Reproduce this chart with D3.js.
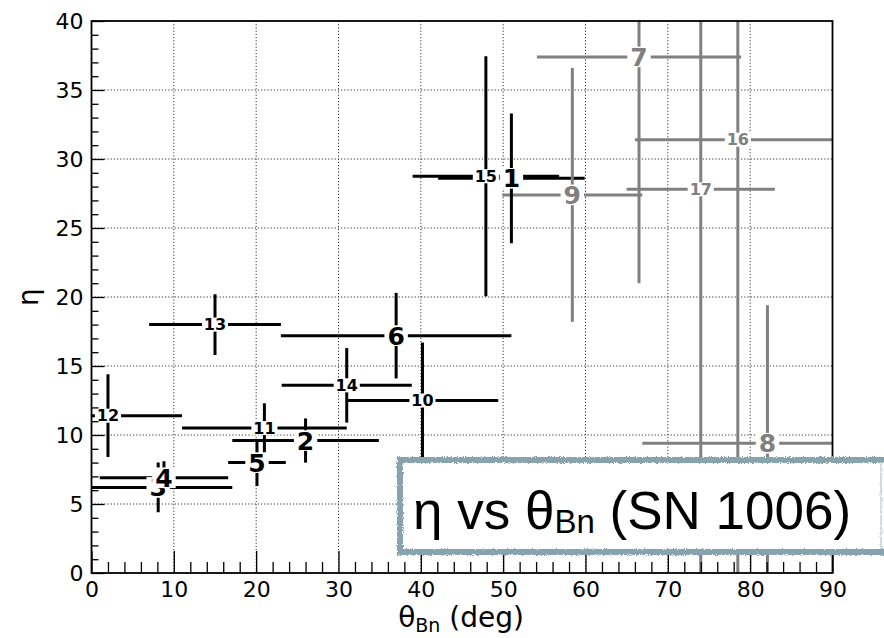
<!DOCTYPE html>
<html>
<head>
<meta charset="utf-8">
<script src="https://cdn.jsdelivr.net/npm/d3@7/dist/d3.min.js"></script>
<style>
  html, body { margin: 0; padding: 0; background: #fff; }
  svg { display: block; }
</style>
</head>
<body>
<svg id="chart" width="884" height="638"></svg>
<script>
// ---- data ----
const labels   = ["1","2","3","4","5","6","7","8","9","10","11","12","13","14","15","16","17"];
const theta    = [51.0, 26.0, 8.1, 8.8, 20.1, 37.0, 66.5, 82.1, 58.4, 40.2, 21.0, 2.0, 15.0, 31.0, 47.9, 78.5, 74.0];
const thetaErr = [8.9, 8.9, 9.0, 7.8, 3.5, 14.0, 12.4, 15.2, 8.5, 9.2, 10.0, 9.0, 8.0, 7.9, 8.9, 12.5, 9.0];
const eta      = [28.6, 9.6, 6.2, 6.9, 8.0, 17.2, 37.4, 9.4, 27.4, 12.5, 10.5, 11.4, 18.0, 13.6, 28.75, 31.4, 27.8];
const etaErr   = [4.7, 1.6, 1.8, 1.2, 1.7, 3.1, 16.4, 10.0, 9.2, 4.2, 1.8, 3.0, 2.2, 2.7, 8.7, 35, 35];
const grayPts  = ["7","8","9","16","17"];
const xTicks   = [0,10,20,30,40,50,60,70,80,90];
const yTicks   = [0,5,10,15,20,25,30,35,40];
const xMinorTicks = d3.range(0, 91, 2).filter(v => v % 10 !== 0);
const yMinorTicks = d3.range(0, 41, 1).filter(v => v % 5 !== 0);

const points = labels.map((l, i) => ({label: l, x: theta[i], xe: thetaErr[i], y: eta[i], ye: etaErr[i], gray: grayPts.includes(l)}));

// ---- layout ----
const svg = d3.select("#chart");
const L = 91.5, R = 832.5, T = 21, B = 573;
const x = d3.scaleLinear().domain([0, 90]).range([L, R]);
const y = d3.scaleLinear().domain([0, 40]).range([B, T]);
const BLACK = "#000", GRAY = "#808080";

const defs = svg.append("defs");
defs.append("clipPath").attr("id", "plotclip").append("rect")
  .attr("x", L).attr("y", T).attr("width", R - L).attr("height", B - T);
const rough = defs.append("filter").attr("id", "rough").attr("x", "-5%").attr("y", "-10%").attr("width", "110%").attr("height", "120%");
rough.append("feTurbulence").attr("type", "fractalNoise").attr("baseFrequency", "0.9").attr("numOctaves", 2).attr("seed", 3).attr("result", "noise");
rough.append("feDisplacementMap").attr("in", "SourceGraphic").attr("in2", "noise").attr("scale", 3.5).attr("xChannelSelector", "R").attr("yChannelSelector", "G");

// gridlines
const grid = svg.append("g").attr("stroke", "#333").attr("stroke-width", 1).attr("stroke-dasharray", "1.2,2");
grid.selectAll("line.gx").data(xTicks.filter(v => v > 0 && v < 90)).join("line")
  .attr("x1", d => x(d)).attr("x2", d => x(d)).attr("y1", T).attr("y2", B);
grid.selectAll("line.gy").data(yTicks.filter(v => v > 0 && v < 40)).join("line")
  .attr("y1", d => y(d)).attr("y2", d => y(d)).attr("x1", L).attr("x2", R);

// error bars
const bars = svg.append("g").attr("clip-path", "url(#plotclip)");
bars.selectAll("line.h").data(points).join("line")
  .attr("x1", d => x(d.x - d.xe)).attr("x2", d => x(d.x + d.xe))
  .attr("y1", d => y(d.y)).attr("y2", d => y(d.y))
  .attr("stroke", d => d.gray ? GRAY : BLACK).attr("stroke-width", 3);
bars.selectAll("line.v").data(points).join("line")
  .attr("x1", d => x(d.x)).attr("x2", d => x(d.x))
  .attr("y1", d => y(d.y - d.ye)).attr("y2", d => y(d.y + d.ye))
  .attr("stroke", d => d.gray ? GRAY : BLACK).attr("stroke-width", 3);

// labels with white boxes
const lab = svg.append("g").attr("clip-path", "url(#plotclip)");
points.forEach(d => {
  const fs = d.label.length === 1 ? 25 : 16;
  const g = lab.append("g");
  const rect = g.append("rect").attr("fill", "#fff");
  const t = g.append("text")
    .attr("x", x(d.x)).attr("y", y(d.y) + 0.36 * fs)
    .attr("text-anchor", "middle")
    .attr("font-family", "DejaVu Sans").attr("font-weight", "bold")
    .attr("font-size", fs).attr("fill", d.gray ? GRAY : BLACK)
    .text(d.label);
  const w = t.node().getComputedTextLength();
  const h = 0.73 * fs;
  const px = 0.12 * fs, py = 1.2;
  rect.attr("x", x(d.x) - w / 2 - px).attr("y", y(d.y) - h / 2 - py)
      .attr("width", w + 2 * px).attr("height", h + 2 * py);
});

// axes
const axFont = "DejaVu Sans";
function styleAxis(g) {
  g.select(".domain").remove();
  g.selectAll(".tick line").attr("stroke", "#000").attr("stroke-width", 1.3);
  g.selectAll(".tick text").attr("font-family", axFont).attr("font-size", 22).attr("fill", "#000");
}
svg.append("g").attr("transform", `translate(0,${B})`)
  .call(d3.axisBottom(x).tickValues(xTicks).tickSize(-22).tickPadding(8).tickFormat(d3.format("d")))
  .call(styleAxis);
svg.append("g").attr("transform", `translate(0,${B})`)
  .call(d3.axisBottom(x).tickValues(xMinorTicks).tickSize(-11).tickFormat(""))
  .call(styleAxis);
svg.append("g").attr("transform", `translate(${L},0)`)
  .call(d3.axisLeft(y).tickValues(yTicks).tickSize(-13).tickPadding(8).tickFormat(d3.format("d")))
  .call(styleAxis);
svg.append("g").attr("transform", `translate(${L},0)`)
  .call(d3.axisLeft(y).tickValues(yMinorTicks).tickSize(-7).tickFormat(""))
  .call(styleAxis);

// spines
svg.append("rect").attr("x", L).attr("y", T).attr("width", R - L).attr("height", B - T)
  .attr("fill", "none").attr("stroke", "#000").attr("stroke-width", 1.8);

// axis labels
const xl = svg.append("text").attr("x", 461).attr("y", 627)
  .attr("text-anchor", "middle").attr("font-family", axFont).attr("font-size", 28).attr("fill", "#000");
xl.append("tspan").text("θ");
xl.append("tspan").attr("font-size", 19).attr("dy", 5).text("Bn");
xl.append("tspan").attr("dy", -5).text(" (deg)");

svg.append("text").attr("transform", `translate(37.5,297) rotate(-90)`)
  .attr("text-anchor", "middle").attr("font-family", axFont).attr("font-size", 28).attr("fill", "#000")
  .text("η");

// title box (sketchy border)
const box = svg.append("g");
box.append("rect").attr("x", 400).attr("y", 460).attr("width", 482).attr("height", 92).attr("fill", "#fff");
const bx = box.append("g").attr("filter", "url(#rough)").attr("stroke", "#86a3ae").attr("stroke-linecap", "square");
bx.append("line").attr("x1", 400).attr("x2", 884).attr("y1", 460).attr("y2", 460).attr("stroke-width", 6);
bx.append("line").attr("x1", 400).attr("x2", 884).attr("y1", 552).attr("y2", 552).attr("stroke-width", 6);
bx.append("line").attr("x1", 400).attr("x2", 400).attr("y1", 460).attr("y2", 552).attr("stroke-width", 6);
bx.append("line").attr("x1", 881).attr("x2", 881).attr("y1", 464).attr("y2", 548).attr("stroke-width", 1.5).attr("stroke-opacity", 0.5);

const tt = box.append("text").attr("x", 413).attr("y", 529)
  .attr("font-family", "Liberation Sans, Arial, sans-serif").attr("font-size", 53).attr("fill", "#000");
tt.append("tspan").text("η vs θ");
tt.append("tspan").attr("font-size", 33).attr("dy", 4).text("Bn");
tt.append("tspan").attr("dy", -4).text(" (SN 1006)");
</script>
</body>
</html>
